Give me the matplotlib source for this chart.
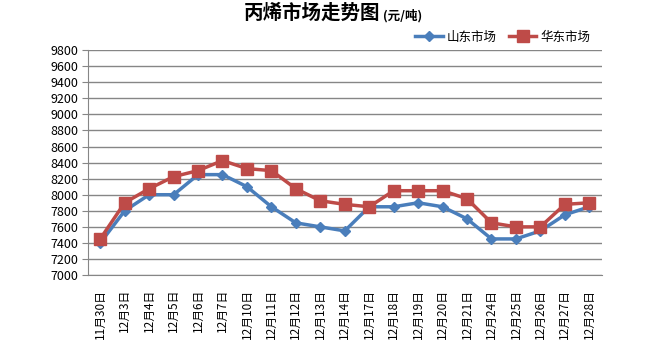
import matplotlib
matplotlib.use("Agg")
import matplotlib.pyplot as plt
from matplotlib.ticker import MultipleLocator

plt.rcParams["font.family"] = ["Noto Sans CJK SC", "DejaVu Sans"]

dates = ["11月30日", "12月3日", "12月4日", "12月5日", "12月6日", "12月7日",
         "12月10日", "12月11日", "12月12日", "12月13日", "12月14日", "12月17日",
         "12月18日", "12月19日", "12月20日", "12月21日", "12月24日", "12月25日",
         "12月26日", "12月27日", "12月28日"]
shandong = [7400, 7800, 8000, 8000, 8250, 8250, 8100, 7850, 7650, 7600, 7550,
            7850, 7850, 7900, 7850, 7700, 7450, 7450, 7550, 7750, 7850]
huadong = [7450, 7900, 8075, 8225, 8300, 8425, 8325, 8300, 8075, 7925, 7880,
           7850, 8050, 8050, 8050, 7950, 7650, 7600, 7600, 7880, 7900]

BLUE = "#4A7EBB"
RED = "#BE4B48"
GRID = "#868686"

fig = plt.figure(figsize=(6.5, 3.43), dpi=100)
ax = fig.add_axes([0.1354, 0.198, 0.79, 0.656])

x = range(len(dates))
ax.plot(x, shandong, color=BLUE, lw=2.5, marker="D", ms=5.5,
        mec=BLUE, mfc=BLUE, label="山东市场", zorder=3)
ax.plot(x, huadong, color=RED, lw=2.5, marker="s", ms=8,
        mec=RED, mfc=RED, label="华东市场", zorder=3)

ax.set_xlim(-0.5, len(dates) - 0.5)
ax.set_ylim(7000, 9800)
ax.yaxis.set_major_locator(MultipleLocator(200))
ax.grid(axis="y", color=GRID, lw=1)
ax.set_axisbelow(True)

ax.set_xticks(list(x))
ax.set_xticklabels(dates, rotation=90, fontsize=8.5)
ax.tick_params(axis="y", labelsize=9, length=4, color=GRID, pad=3)
ax.tick_params(axis="x", length=0, pad=10)

for s in ["top", "right"]:
    ax.spines[s].set_visible(False)
for s in ["left", "bottom"]:
    ax.spines[s].set_color(GRID)

fig.text(0.585, 0.962, "丙烯市场走势图", ha="right", va="center",
         fontsize=14, fontweight="bold")
fig.text(0.59, 0.955, "(元/吨)", ha="left", va="center",
         fontsize=9, fontweight="bold")

ax.legend(loc="lower right", bbox_to_anchor=(0.99, 1.0), ncol=2, frameon=False,
          fontsize=9, handlelength=2.2, columnspacing=1.0, handletextpad=0.3,
          borderaxespad=0.1)

fig.savefig("out.png", dpi=100)
